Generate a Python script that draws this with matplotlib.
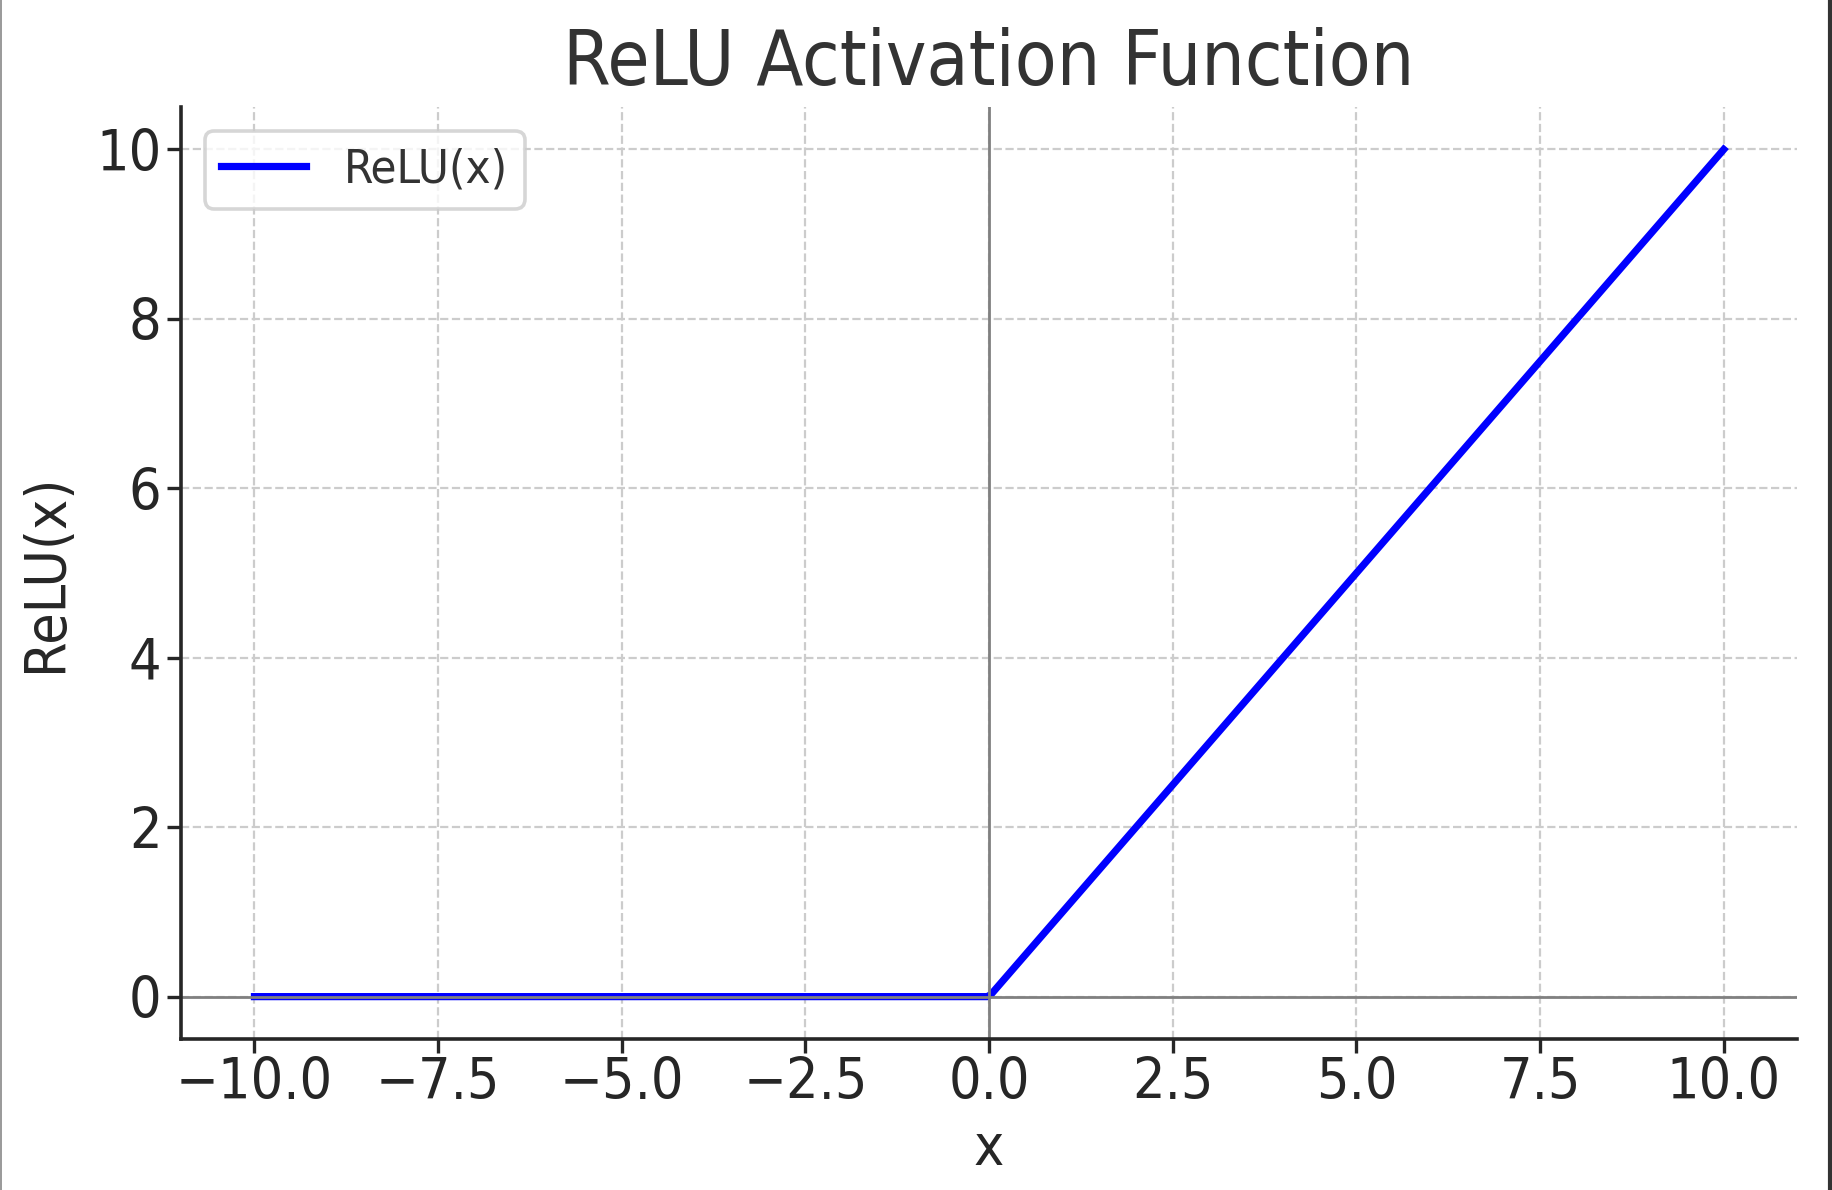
import numpy as np
import matplotlib
matplotlib.use('Agg')
import matplotlib.pyplot as plt
from matplotlib.lines import Line2D

plt.rcParams['font.family'] = ['DejaVu Sans']
plt.rcParams['font.stretch'] = 'condensed'
plt.rcParams['axes.unicode_minus'] = True

# data
x_values = np.linspace(-10, 10, 400)
relu_values = np.maximum(0, x_values)
x_ticks = [-10.0, -7.5, -5.0, -2.5, 0.0, 2.5, 5.0, 7.5, 10.0]
y_ticks = [0, 2, 4, 6, 8, 10]

fig = plt.figure(figsize=(9.16, 5.95), dpi=200)
ax = fig.add_axes([0.0988, 0.1269, 0.8822, 0.7831])

ax.plot(x_values, relu_values, color='blue', linewidth=2.6, label='ReLU(x)')
ax.axhline(0, color='gray', linewidth=1.0)
ax.axvline(0, color='gray', linewidth=1.0)

ax.grid(True, linestyle='--', color='#cccccc', linewidth=0.8)
ax.set_axisbelow(True)

ax.set_xticks(x_ticks)
ax.set_yticks(y_ticks)
ax.set_xlim(-11, 11)
ax.set_ylim(-0.5, 10.5)

for s in ['top', 'right']:
    ax.spines[s].set_visible(False)
for s in ['left', 'bottom']:
    ax.spines[s].set_linewidth(1.3)
    ax.spines[s].set_color('#262626')
ax.tick_params(axis='both', labelsize=20.5, colors='#262626', length=5, width=1.2, pad=2)
ax.tick_params(axis='x', pad=1)

ax.set_title('ReLU Activation Function', fontsize=27.5, color='#333333', pad=8)
ax.set_xlabel('x', fontsize=20.5, color='#262626', labelpad=4)
ax.set_ylabel('ReLU(x)', fontsize=20.5, color='#262626', labelpad=8)

leg = ax.legend(loc='upper left', fontsize=17, frameon=True, fancybox=True,
                borderpad=0.35, handlelength=1.8, handletextpad=0.8)
leg.get_frame().set_edgecolor('#cccccc')
leg.get_frame().set_linewidth(1.3)
for t in leg.get_texts():
    t.set_color('#333333')

# screenshot border
fig.add_artist(Line2D([0.0003, 0.0003], [0, 1], transform=fig.transFigure, color='#888888', linewidth=0.6))
fig.add_artist(Line2D([0.9989, 0.9989], [0, 1], transform=fig.transFigure, color='#333333', linewidth=1.5))

fig.savefig('out.png', dpi=200)
